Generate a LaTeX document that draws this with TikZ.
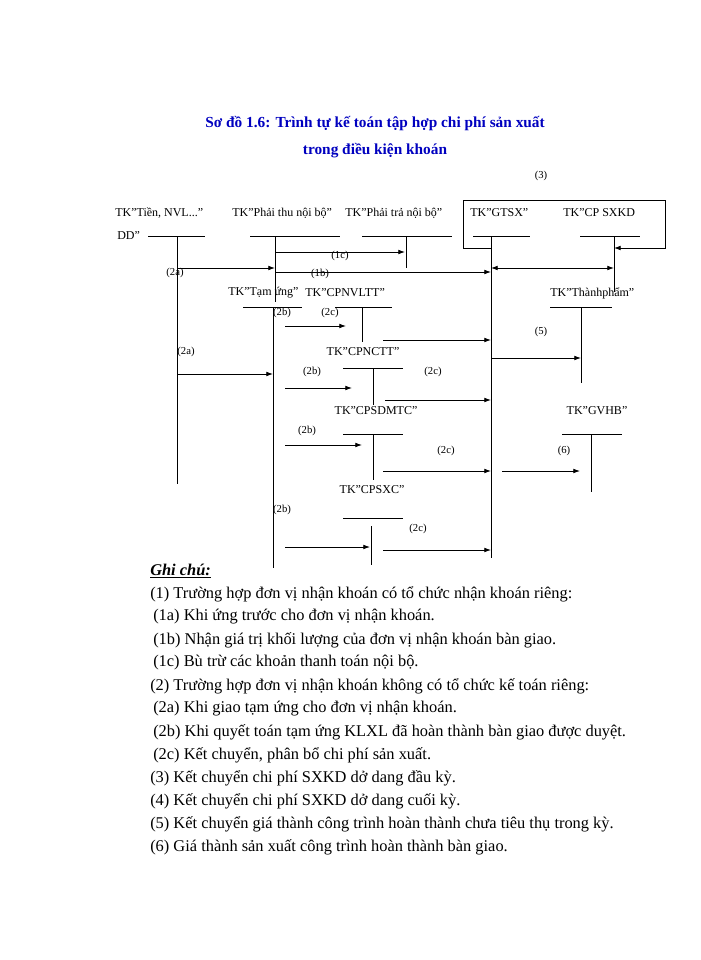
\documentclass[tikz,border=0pt]{standalone}
\usepackage{fontspec}
\setmainfont{Liberation Serif}
\usetikzlibrary{arrows.meta}
\newcommand{\qq}{\symbol{34}}
\begin{document}
\begin{tikzpicture}[x=0.75pt,y=-0.75pt,
  ln/.style={line width=0.6pt},
  ar/.style={line width=0.6pt,-{Latex[length=5pt,width=3.5pt]}},
  tk/.style={font=\fontsize{9}{10}\selectfont,inner sep=0pt},
  lb/.style={font=\fontsize{8}{9}\selectfont,inner sep=0pt},
  note/.style={anchor=west,font=\fontsize{12.3}{14}\selectfont,inner sep=0pt}]
\useasboundingbox (0,0) rectangle (700,960);
\node[font=\bfseries\fontsize{11.5}{13}\selectfont,text=blue!75!black] (t1) at (375,124) {Sơ đồ 1.6: Trình tự kế toán tập hợp chi phí sản xuất};
\node[font=\bfseries\fontsize{11.5}{13}\selectfont,text=blue!75!black] (t2) at (375,151) {trong điều kiện khoán};
% accounts
\node[tk,anchor=west] (tien) at (115,213) {TK\qq Tiền, NVL...\qq};
\node[tk,anchor=west] (dd) at (117,236) {DD\qq};
\draw[ln] (148,236) -- (205,236); \draw[ln] (177,236) coordinate (v1) -- (177,484);
\node[tk,anchor=west] (pt) at (232,213) {TK\qq Phải thu nội bộ\qq};
\draw[ln] (250,236) -- (340,236); \draw[ln] (275,236) -- (275,302);
\node[tk,anchor=west] (ptr) at (345,213) {TK\qq Phải trả nội bộ\qq};
\draw[ln] (362,236) -- (452,236); \draw[ln] (406,236) -- (406,268);
\node[tk,anchor=west] (gtsx) at (470,213) {TK\qq GTSX\qq};
\draw[ln] (473,236) -- (530,236); \draw[ln] (491,236) -- (491,558);
\node[tk,anchor=west] (cps) at (563,213) {TK\qq CP SXKD};
\draw[ln] (580,236) -- (640,236); \draw[ln] (614,236) -- (614,292);
\node[lb] (l3) at (541,176) {(3)};
\draw[ar] (491,248) -| (463,200) -| (665,248) -- (614,248);
\draw[ln,{Latex[length=5pt,width=3.5pt]}-{Latex[length=5pt,width=3.5pt]}] (491,268) -- (614,268);
\draw[ar] (275,252) -- (405,252); \node[lb] at (340,256) {(1c)};
\draw[ar] (177,268) -- (275,268); \node[lb] at (175,273) {(2a)};
\draw[ar] (275,272) -- (491,272); \node[lb] at (320,274) {(1b)};
\node[tk,anchor=west] (tu) at (228,293) {TK\qq Tạm ứng\qq};
\draw[ln] (243,307) -- (302,307); \draw[ln] (273,307) -- (273,568);
\node[tk,anchor=west] (nvl) at (305,293) {TK\qq CPNVLTT\qq};
\draw[ln] (335,307) -- (392,307); \draw[ln] (362,307) -- (362,342);
\node[lb] at (282,313) {(2b)}; \node[lb] at (330,313) {(2c)};
\draw[ar] (285,326) -- (346,326);
\draw[ar] (383,340) -- (491,340);
\node[tk,anchor=west] (tp) at (550,293) {TK\qq Thànhphẩm\qq};
\draw[ln] (550,307) -- (612,307); \draw[ln] (581,307) -- (581,383);
\node[lb] at (541,332) {(5)};
\draw[ar] (491,358) -- (581,358);
\node[lb] at (186,352) {(2a)};
\draw[ar] (177,374) -- (273,374);
\node[tk] (nc) at (363,352) {TK\qq CPNCTT\qq};
\draw[ln] (343,368) -- (403,368); \draw[ln] (373,368) -- (373,405);
\node[lb] at (312,372) {(2b)}; \draw[ar] (285,388) -- (352,388);
\node[lb] at (433,372) {(2c)}; \draw[ar] (385,400) -- (491,400);
\node[tk] (mtc) at (376,411) {TK\qq CPSDMTC\qq};
\draw[ln] (343,434) -- (403,434); \draw[ln] (373,434) -- (373,480);
\node[lb] at (307,431) {(2b)}; \draw[ar] (285,445) -- (362,445);
\node[lb] at (446,451) {(2c)}; \draw[ar] (383,471) -- (491,471);
\node[tk] (gv) at (597,411) {TK\qq GVHB\qq};
\draw[ln] (562,434) -- (622,434); \draw[ln] (591,434) -- (591,492);
\node[lb] at (564,451) {(6)}; \draw[ar] (502,471) -- (580,471);
\node[tk] (sxc) at (372,490) {TK\qq CPSXC\qq};
\draw[ln] (343,518) -- (403,518); \draw[ln] (371,526) -- (371,565);
\node[lb] at (282,510) {(2b)}; \draw[ar] (285,547) -- (370,547);
\node[lb] at (418,529) {(2c)}; \draw[ar] (383,550) -- (491,550);
% notes
\node[note,font=\bfseries\itshape\fontsize{12.3}{14}\selectfont] (gc) at (150,571) {\underline{Ghi chú:}};
\node[note] at (150,594) {(1) Trường hợp đơn vị nhận khoán có tổ chức nhận khoán riêng:};
\node[note] at (153,617) {(1a) Khi ứng trước cho đơn vị nhận khoán.};
\node[note] at (153,640) {(1b) Nhận giá trị khối lượng của đơn vị nhận khoán bàn giao.};
\node[note] at (153,663) {(1c) Bù trừ các khoản thanh toán nội bộ.};
\node[note] at (150,686) {(2) Trường hợp đơn vị nhận khoán không có tổ chức kế toán riêng:};
\node[note] at (153,709) {(2a) Khi giao tạm ứng cho đơn vị nhận khoán.};
\node[note] at (153,732) {(2b) Khi quyết toán tạm ứng KLXL đã hoàn thành bàn giao được duyệt.};
\node[note] at (153,755) {(2c) Kết chuyển, phân bổ chi phí sản xuất.};
\node[note] at (150,778) {(3) Kết chuyển chi phí SXKD dở dang đầu kỳ.};
\node[note] at (150,801) {(4) Kết chuyển chi phí SXKD dở dang cuối kỳ.};
\node[note] at (150,824) {(5) Kết chuyển giá thành công trình hoàn thành chưa tiêu thụ trong kỳ.};
\node[note] at (150,847) {(6) Giá thành sản xuất công trình hoàn thành bàn giao.};
\end{tikzpicture}
\end{document}
